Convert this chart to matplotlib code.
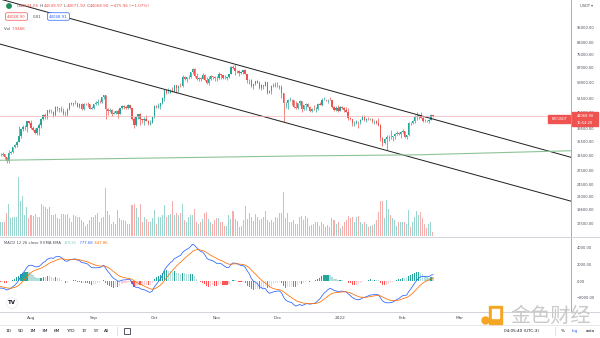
import numpy as np
import pandas as pd
import matplotlib
matplotlib.use('Agg')
import matplotlib.pyplot as plt
import matplotlib.dates as mdates
from matplotlib.ticker import FixedLocator, FuncFormatter, NullLocator
from matplotlib.patches import Rectangle, Circle
from matplotlib.lines import Line2D
from matplotlib.text import Annotation
from matplotlib import transforms

# BTCUSDT daily, closes before the visible window (only used to warm up the MACD)
warmup_close = [36690, 37570, 39190, 36850, 35520, 35800, 33550, 33400, 37390, 36680,
                37330, 35550, 39020, 40520, 40140, 38350, 38090, 35820, 35480, 35600,
                31680, 32510, 33680, 34660, 31590, 32280, 34700, 34490, 35910, 35040,
                33540, 33800, 34690, 35290, 33690, 34220, 33880, 32880, 33810, 33510,
                34260, 33090, 32730, 32820, 31780]

# visible candles 2021-07-16 .. 2022-02-16
close = [31400, 31530, 31780, 30840, 29790, 32140, 32290, 33640, 34240, 35380, 37270, 39460, 39990, 40020, 42200, 41460,
         39850, 39150, 38200, 39720, 40870, 42830, 44610, 43830, 46290, 45590, 45550, 44430, 47830, 47100, 47050, 45970,
         44690, 44720, 46760, 49340, 48870, 49290, 49550, 47700, 48970, 46840, 49070, 48900, 48800, 46990, 47110,
         48850, 49280, 49940, 49920, 51760, 52660, 46860, 46070, 46370, 44850, 45170, 46030, 44960, 47110, 48140,
         47750, 47300, 48310, 47250, 43000, 40690, 43560, 44880, 42810, 42670, 43160, 42170, 41030, 41520, 43820,
         48140, 47630, 48200, 49220, 51470, 55320, 53790, 53950, 54940, 54660, 57470, 56000, 57360, 57350, 61670, 60880,
         61530, 62010, 64280, 66000, 62190, 60690, 61300, 60850, 63080, 60330, 58450, 60590, 62270, 61880, 61320,
         61000, 63230, 62940, 61440, 61010, 61530, 63300, 67550, 66970, 64880, 64800, 64150, 64400, 65510, 63590,
         60110, 60370, 56900, 58100, 59750, 58730, 56290, 57570, 57170, 58960, 53730, 54720, 57270, 57810, 56950,
         57200, 56500, 53600, 49150, 49400, 50440, 50590, 50470, 47550, 47140, 49390, 50050, 46700, 48340, 48860, 47630,
         46130, 46830, 46680, 46910, 48900, 48590, 50820, 50820, 50430, 50800, 50640, 47590, 46460, 47120, 46210,
         47720, 47290, 46430, 45830, 43430, 43080, 41550, 41670, 41860, 41820, 42740, 43900, 42560, 43080, 43070, 43090,
         42200, 42350, 41660, 40680, 36450, 35070, 36280, 36650, 36950, 36820, 37150, 37710, 38170, 37920, 38480,
         38740, 36950, 37340, 41570, 41380, 42410, 43840, 44040, 44380, 43510, 42390, 42210, 42190, 42590, 44545, 44069]

high = [32250, 31950, 32430, 31900, 31060, 32850, 32580, 33650, 34500, 35400, 40550, 39540, 40900, 40640, 42300, 42410,
        42600, 40460, 39770, 39970, 41350, 43390, 44700, 45310, 46450, 46670, 46780, 46220, 47880, 48150, 47400, 48050,
        47160, 46000, 47080, 49380, 49760, 49520, 50500, 49860, 49230, 49370, 49170, 49320, 49650, 48910, 48250,
        48950, 50400, 51050, 50560, 51900, 52920, 52920, 47360, 47340, 47030, 45990, 46450, 46880, 47250, 48470,
        48500, 48170, 48830, 48380, 47340, 43640, 44000, 44980, 45200, 42970, 43900, 44350, 42790, 42610, 44100,
        48500, 48350, 49230, 49500, 51890, 55750, 55330, 56100, 55450, 56540, 57840, 57670, 57540, 58530, 62930, 62350,
        61720, 62690, 64490, 67000, 66640, 63720, 61750, 61490, 63710, 63290, 61500, 62500, 62960, 62370, 62400,
        62440, 64270, 63500, 63090, 62600, 61560, 63300, 67790, 68530, 69000, 65600, 65460, 65000, 65550, 66400,
        63620, 60800, 60950, 58360, 59870, 60000, 59530, 57880, 57810, 59400, 59170, 55300, 57450, 58870, 59180,
        59100, 57400, 57600, 53900, 49700, 50900, 51950, 51200, 50800, 50100, 49480, 50800, 50300, 48700, 49500, 49430,
        47990, 47300, 48300, 47540, 49330, 49570, 51380, 51860, 51150, 51280, 52090, 50700, 48130, 47900, 48550,
        47950, 47990, 47570, 47500, 47070, 43750, 43150, 42300, 42790, 42250, 43100, 44350, 44450, 43450, 43800, 43480,
        43170, 42690, 42580, 43500, 41100, 36830, 36500, 37550, 37540, 38920, 37230, 38000, 38720, 38360, 38740,
        39270, 38860, 37400, 41770, 41920, 42660, 44500, 45490, 44800, 45850, 43920, 43000, 42760, 42880, 44770, 44550]

low = [31020, 31160, 31100, 30500, 29280, 29480, 31700, 32000, 33400, 33880, 35200, 36400, 38800, 39200, 38310, 41050,
       39420, 38690, 37640, 37510, 37330, 39850, 42450, 43080, 42840, 45110, 45350, 43770, 44250, 45960, 45520, 45660,
       44380, 44210, 43960, 46640, 48290, 48120, 49050, 47600, 47140, 46350, 46370, 48370, 47760, 46870, 46700,
       46820, 48600, 48360, 49400, 49500, 50970, 42840, 44410, 45500, 44150, 44720, 44750, 43370, 44750, 46690,
       47030, 46750, 47050, 46850, 42500, 39600, 40560, 43090, 40680, 41650, 40800, 42100, 40900, 40750, 41400,
       43280, 47420, 47100, 46900, 49050, 50380, 53360, 53620, 53700, 54100, 54410, 53880, 54250, 56800, 56850, 60150,
       58960, 60870, 61320, 63480, 62000, 60000, 59670, 59520, 60650, 59820, 58000, 57820, 60170, 60730, 59500,
       59400, 60650, 60900, 60680, 60720, 60050, 61370, 63100, 66250, 62820, 64110, 62300, 63360, 63600, 63400,
       58580, 58370, 56470, 55600, 57420, 58490, 55610, 55300, 55880, 57000, 53500, 53610, 53330, 56720, 56460,
       56500, 55850, 51680, 42000, 47100, 46850, 50040, 48630, 47320, 46850, 46750, 48650, 45670, 46290, 46550, 47530,
       45500, 45650, 46400, 45560, 46630, 48420, 48050, 50450, 50150, 49400, 50450, 47310, 46100, 45900, 45680,
       46200, 46650, 45700, 45500, 42500, 42430, 40610, 40500, 41200, 39650, 41270, 42450, 42300, 41720, 42600, 42600,
       41540, 41250, 41140, 40550, 35440, 34010, 34600, 32920, 35700, 36260, 35500, 36160, 37300, 37350, 36630,
       38030, 36590, 36250, 36960, 40900, 41100, 41650, 42670, 43120, 43200, 41950, 41750, 41870, 41580, 42430, 43672]

# volume, thousands of BTC
volume = [26, 26, 26, 26, 43, 60, 33, 36, 35, 35, 109, 64, 74, 39, 53, 33, 39, 37, 41, 36, 36, 60, 56, 53, 49, 53,
          39, 39, 41, 34, 31, 41, 41, 39, 41, 33, 26, 39, 37, 36, 35, 30, 26, 18, 22, 30, 35, 36, 39, 43, 26,
          33, 36, 88, 47, 39, 23, 26, 22, 48, 33, 30, 30, 28, 23, 23, 57, 60, 51, 36, 60, 25, 36, 31, 26,
          25, 33, 48, 22, 36, 36, 39, 57, 36, 39, 41, 64, 39, 42, 39, 42, 60, 30, 26, 36, 39, 39, 49, 26,
          23, 26, 31, 43, 45, 31, 26, 23, 30, 33, 33, 26, 25, 18, 18, 39, 31, 47, 31, 28, 17, 18, 30, 56, 31,
          43, 36, 28, 41, 36, 30, 31, 36, 47, 30, 25, 30, 26, 36, 33, 42, 43, 82, 33, 42, 26, 26, 30, 23, 23,
          36, 37, 30, 37, 33, 18, 20, 23, 26, 25, 18, 25, 23, 17, 20, 17, 33, 30, 23, 25,
          14, 18, 26, 30, 37, 33, 36, 25, 36, 37, 25, 23, 25, 22, 16, 18, 20, 22, 30, 45,
          64, 65, 33, 67, 49, 39, 33, 30, 18, 26, 26, 26, 26, 22, 48, 17, 26, 36, 47,
          39, 45, 33, 23, 14, 23, 26, 8]

# drawn lines (date, price)
upper_line = [('2021-07-16', 121400), ('2022-04-26', 30780)]
lower_line = [('2021-07-16', 82300), ('2022-04-26', 21080)]
green_line = [('2021-07-16', 30100), ('2021-12-12', 31250), ('2022-02-09', 31550), ('2022-04-26', 32700)]
last_price = 44068.90

price_ticks = [95000, 83000, 75000, 67000, 59000, 51500, 45500, 39500, 35500, 31500, 27500, 24500, 22000, 19600, 17500]
macd_ticks = [4000, 2000, 0, -2000]
month_ticks = ['2021-08-01', '2021-09-01', '2021-10-01', '2021-11-01', '2021-12-01', '2022-01-01', '2022-02-01', '2022-03-01']
month_labels = ['Aug', 'Sep', 'Oct', 'Nov', 'Dec', '2022', 'Feb', 'Mar']
ranges = ['1D', '5D', '1M', '3M', '6M', 'YTD', '1Y', '5Y', 'All']

UP, DOWN = '#26a69a', '#ef5350'
TXT = '#4a4e59'

n_w = len(warmup_close)
dates = pd.date_range('2021-06-01', periods=n_w + len(close), freq='D')
s = pd.Series(warmup_close + close, index=dates, dtype=float)
ema12 = s.ewm(span=12, adjust=False).mean()
ema26 = s.ewm(span=26, adjust=False).mean()
macd = ema12 - ema26
signal = macd.ewm(span=9, adjust=False).mean()
hist = macd - signal

o = s.shift(1).values[n_w:]
c = np.array(close, float)
h = np.array(high, float)
l = np.array(low, float)
v = np.array(volume, float)
x = mdates.date2num(dates[n_w:])
xa = mdates.date2num(dates)
up = c >= o
cols = np.where(up, UP, DOWN)
vcols = np.where(up, '#9ad6cf', '#f6aeac')

hv = hist.values
hprev = np.r_[0, hv[:-1]]
hcols = np.where(hv >= 0, np.where(hv > hprev, UP, '#b2dfdb'),
                 np.where(hv > hprev, '#ffcdd2', '#ff5252'))

W, H = 600, 338
fig = plt.figure(figsize=(6, 3.38), dpi=100, facecolor='white')
px = transforms.Affine2D().scale(1 / W, -1 / H).translate(0, 1) + fig.transFigure


def rect(x0, y0, x1, y1):
    return [x0 / W, 1 - y1 / H, (x1 - x0) / W, (y1 - y0) / H]


aug1 = mdates.date2num(pd.Timestamp('2021-08-01'))
xlim = (aug1 - 31 / 2.02, aug1 + 540 / 2.02)

ax_vol = fig.add_axes(rect(0, 0, 571, 236))
ax_vol.set_zorder(0)
ax = fig.add_axes(rect(0, 0, 571, 236))
ax.set_zorder(1)
ax.patch.set_visible(False)
ax_m = fig.add_axes(rect(0, 237, 571, 311))

# volume
ax_vol.bar(x, v, width=0.5, color=vcols, lw=0)
ax_vol.set_xlim(xlim)
ax_vol.set_ylim(0, max(volume) * 236 / 59)
ax_vol.axis('off')

# candles
ax.vlines(x, l, h, colors=cols, lw=0.5)
ax.bar(x, np.abs(c - o), bottom=np.minimum(o, c), width=0.65, color=cols, lw=0)
for pts, col, lw in [(upper_line, '#1e1e1e', 0.7), (lower_line, '#1e1e1e', 0.7), (green_line, '#8cc497', 0.8)]:
    ax.plot(mdates.date2num(pd.to_datetime([p[0] for p in pts])), [p[1] for p in pts], color=col, lw=lw)
ax.axhline(last_price, color='#f3b3b1', lw=0.5)
ax.set_yscale('log')
ax.set_ylim(15660, 120000)
ax.set_xlim(xlim)
ax.yaxis.set_major_locator(FixedLocator(price_ticks))
ax.yaxis.set_minor_locator(NullLocator())
ax.yaxis.set_major_formatter(FuncFormatter(lambda val, pos: f'{val:.2f}'))
ax.yaxis.tick_right()
ax.tick_params(axis='y', length=0, pad=4, labelsize=2.6, labelcolor=TXT)
ax.set_xticks([])

# MACD pane
ax_m.bar(xa, hv, width=0.6, color=hcols, lw=0)
ax_m.plot(xa, macd.values, color='#2962ff', lw=0.55)
ax_m.plot(xa, signal.values, color='#ff6d00', lw=0.55)
ax_m.set_xlim(xlim)
ax_m.set_ylim(-3636, 5333)
ax_m.yaxis.tick_right()
ax_m.set_yticks(macd_ticks)
ax_m.yaxis.set_major_formatter(FuncFormatter(lambda val, pos: f'{val:.2f}'.replace('-', '\u2212')))
ax_m.tick_params(axis='y', length=0, pad=4, labelsize=2.6, labelcolor=TXT)
ax_m.set_xticks(mdates.date2num(pd.to_datetime(month_ticks)))
ax_m.set_xticklabels(month_labels)
ax_m.tick_params(axis='x', length=0, pad=3.5, labelsize=3.1, labelcolor=TXT)

for a in (ax, ax_m):
    for side in ('top', 'left', 'bottom'):
        a.spines[side].set_visible(False)
    a.spines['right'].set_color('#9a9ea8')
    a.spines['right'].set_linewidth(0.6)

for yy, col in [(236.5, '#c9ccd3'), (311.5, '#c9ccd3'), (324.5, '#e3e5ea')]:
    fig.add_artist(Line2D([0, W], [yy, yy], transform=px, color=col, lw=0.6))


def chain(x0, y0, parts, size):
    t = fig.text(x0 / W, 1 - y0 / H, parts[0][0], color=parts[0][1], fontsize=size, va='center', ha='left')
    for txt, col in parts[1:]:
        t = fig.add_artist(Annotation(txt, xy=(1, 0.5), xycoords=t, va='center', ha='left',
                                      color=col, fontsize=size))
    return t


# legend lines
fig.add_artist(Circle((9, 6), 2.2, transform=px, color='#1b8f5a', zorder=5))
chain(17, 6, [('O', TXT), ('44544.05', DOWN), (' H', TXT), ('44549.97', DOWN), (' L', TXT), ('43671.92', DOWN),
              (' C', TXT), ('44068.90', DOWN), (' \u2212475.96 (\u22121.07%)', DOWN)], 3.0)
fig.text(16.5 / W, 1 - 16.5 / H, '44068.90', ha='center', va='center', fontsize=2.8, color=DOWN,
         bbox=dict(boxstyle='round,pad=0.45', fc='white', ec=DOWN, lw=0.5))
fig.text(37 / W, 1 - 16.5 / H, '0.01', ha='center', va='center', fontsize=2.8, color=TXT)
fig.text(58.5 / W, 1 - 16.5 / H, '44068.91', ha='center', va='center', fontsize=2.8, color='#2962ff',
         bbox=dict(boxstyle='round,pad=0.45', fc='white', ec='#2962ff', lw=0.5))
chain(4, 28.5, [('Vol ', TXT), ('7.946K', DOWN)], 2.9)
chain(4, 243, [('MACD 12 26 close 9 EMA EMA  ', TXT), ('129.81', '#7fcdc4'), ('  777.68', '#2962ff'),
               ('  647.86', '#ff6d00')], 2.7)

# price axis extras
fig.text(586 / W, 1 - 6 / H, 'USDT \u25be', ha='center', va='center', fontsize=2.6, color=TXT)
fig.add_artist(Rectangle((572, 112), 26, 14, transform=px, color=DOWN, zorder=5))
fig.text(585 / W, 1 - 116 / H, '44068.90', ha='center', va='center', fontsize=2.6, color='white', zorder=6)
fig.text(585 / W, 1 - 122.5 / H, '16:54:20', ha='center', va='center', fontsize=2.6, color='white', zorder=6)
fig.add_artist(Rectangle((548, 115), 22, 7.5, transform=px, color=DOWN, zorder=5))
fig.text(559 / W, 1 - 118.8 / H, 'BTCUSDT', ha='center', va='center', fontsize=2.4, color='white', zorder=6)

# tradingview mark
fig.add_artist(Circle((12, 303), 5.5, transform=px, color='white', ec='#e0e3eb', lw=0.4, zorder=5))
fig.text(12 / W, 1 - 303 / H, 'TV', ha='center', va='center', fontsize=4, fontweight='bold', color='#131722', zorder=6)

# bottom toolbar
for lab, xx in zip(ranges, [9, 21, 33, 45, 57, 71, 84, 96, 107]):
    fig.text(xx / W, 1 - 331 / H, lab, ha='center', va='center', fontsize=3.1, color='#131722')
fig.add_artist(Line2D([117, 117], [327, 335], transform=px, color='#d1d4dc', lw=0.5))
fig.add_artist(Rectangle((124, 328), 6, 5.5, transform=px, fill=False, ec='#131722', lw=0.5))
fig.text(521 / W, 1 - 331 / H, '04:05:40 (UTC-3)', ha='center', va='center', fontsize=3.0, color='#131722')
fig.add_artist(Line2D([555, 555], [327, 335], transform=px, color='#d1d4dc', lw=0.5))
fig.text(563 / W, 1 - 331 / H, '%', ha='center', va='center', fontsize=3.0, color='#131722')
fig.text(575 / W, 1 - 331 / H, 'log', ha='center', va='center', fontsize=3.0, color='#2962ff')
fig.text(590 / W, 1 - 331 / H, 'auto', ha='center', va='center', fontsize=3.0, color='#131722')

# watermark
fig.add_artist(Rectangle((489, 306), 13, 18, transform=px, color='#f5a623', zorder=7))
fig.add_artist(Rectangle((492, 309), 6.5, 9, transform=px, color='white', zorder=7))
fig.add_artist(Circle((485.5, 320.5), 3.5, transform=px, color='#f5a623', zorder=7))
fig.text(551 / W, 1 - 316 / H, '金色财经', ha='center', va='center', fontsize=14.5,
         family=['Noto Sans CJK SC', 'DejaVu Sans'], color='#c9c9c9', zorder=7)

fig.savefig('out.png', dpi=100, facecolor='white')
